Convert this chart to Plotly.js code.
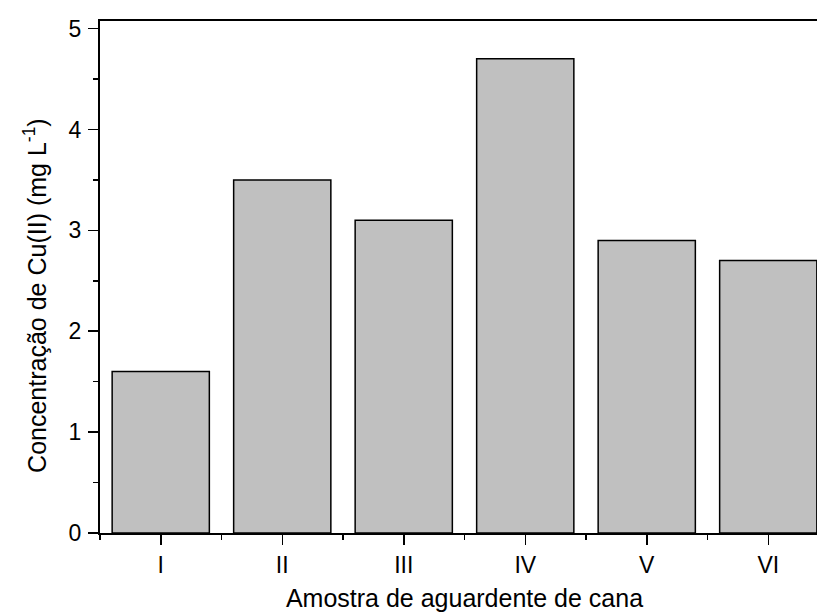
<!DOCTYPE html>
<html>
<head>
<meta charset="utf-8">
<script src="https://cdn.plot.ly/plotly-3.0.1.min.js"></script>
<style>
html,body{margin:0;padding:0;overflow:hidden;background:#fff;width:817px;height:612px;}
#chart{width:850px;height:612px;}
</style>
</head>
<body>
<div id="chart"></div>
<script>
var categories = ['I', 'II', 'III', 'IV', 'V', 'VI'];
var cuConcentration = [1.6, 3.5, 3.1, 4.7, 2.9, 2.7];
var xPositions = categories.map(function (c, i) { return i + 1; });
var yTickValues = [0, 1, 2, 3, 4, 5];
var xTitle = 'Amostra de aguardente de cana';
var yTitle = 'Concentração de Cu(II) (mg L<sup>-1</sup>)';

var font = 'Liberation Sans, Arial, sans-serif';

var trace = {
  type: 'bar',
  x: xPositions,
  y: cuConcentration,
  width: 0.8,
  marker: {color: '#c0c0c0', line: {color: '#000000', width: 1.5}},
  hoverinfo: 'skip'
};

var layout = {
  width: 850,
  height: 612,
  margin: {l: 100, r: 21, t: 21, b: 79},
  paper_bgcolor: '#ffffff',
  plot_bgcolor: '#ffffff',
  showlegend: false,
  font: {family: font, color: '#000000', size: 23},
  xaxis: {
    range: [0.5, 6.5],
    tickvals: xPositions,
    ticktext: categories,
    ticks: 'outside',
    ticklen: 10,
    tickwidth: 1.5,
    tickcolor: '#000000',
    ticklabelstandoff: 0,
    minor: {tick0: 0.5, dtick: 1, ticks: 'outside', ticklen: 5, tickwidth: 1.5, tickcolor: '#000000', showgrid: false},
    showline: true,
    linewidth: 2,
    linecolor: '#000000',
    mirror: true,
    showgrid: false,
    zeroline: false,
    tickfont: {family: font, size: 23, color: '#000000'},
    title: {text: xTitle, font: {family: font, size: 25, color: '#000000'}, standoff: 24},
    automargin: false
  },
  xaxis2: {
    overlaying: 'x',
    side: 'top',
    matches: 'x',
    range: [0.5, 6.5],
    tickvals: xPositions,
    ticks: 'inside',
    ticklen: 2,
    tickwidth: 1,
    tickcolor: '#000000',
    minor: {tick0: 0.5, dtick: 1, ticks: 'inside', ticklen: 2, tickwidth: 1, tickcolor: '#000000', showgrid: false},
    showticklabels: false,
    showline: false,
    showgrid: false,
    zeroline: false,
    automargin: false
  },
  yaxis: {
    range: [0, 5.075],
    tickvals: yTickValues,
    ticks: 'outside',
    ticklen: 10,
    tickwidth: 1.5,
    tickcolor: '#000000',
    ticklabelstandoff: 2,
    minor: {tick0: 0, dtick: 0.5, ticks: 'outside', ticklen: 5, tickwidth: 1.5, tickcolor: '#000000', showgrid: false},
    showline: true,
    linewidth: 2,
    linecolor: '#000000',
    mirror: true,
    showgrid: false,
    zeroline: false,
    tickfont: {family: font, size: 23, color: '#000000'},
    automargin: false
  },
  annotations: [{
    text: yTitle,
    xref: 'paper', yref: 'paper',
    x: -0.0892, y: 0.465,
    xanchor: 'center', yanchor: 'middle',
    textangle: -90,
    showarrow: false,
    font: {family: font, size: 25, color: '#000000'}
  }]
};

Plotly.newPlot('chart', [trace], layout, {staticPlot: true, displayModeBar: false});
</script>
</body>
</html>
